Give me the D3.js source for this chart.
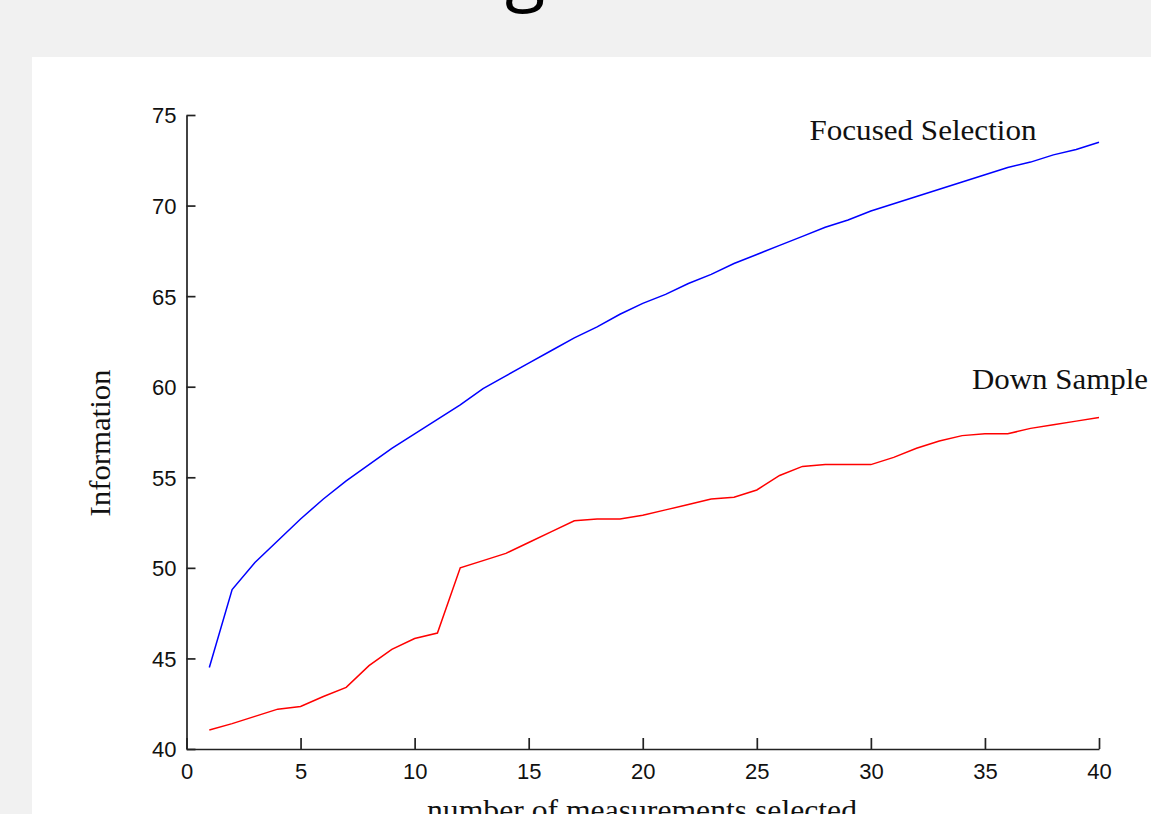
<!DOCTYPE html>
<html>
<head>
<meta charset="utf-8">
<script src="https://cdn.jsdelivr.net/npm/d3@7"></script>
<style>
  html, body { margin: 0; padding: 0; background: #f1f1f1; overflow: hidden; }
  svg { display: block; }
</style>
</head>
<body>
<svg id="chart" width="1151" height="814"></svg>
<script>
// ---- data ----
const measurements = [1,2,3,4,5,6,7,8,9,10,11,12,13,14,15,16,17,18,19,20,21,22,23,24,25,26,27,28,29,30,31,32,33,34,35,36,37,38,39,40];
const focusedSelection = [44.5,48.8,50.3,51.5,52.7,53.8,54.8,55.7,56.6,57.4,58.2,59.0,59.9,60.6,61.3,62.0,62.7,63.3,64.0,64.6,65.1,65.7,66.2,66.8,67.3,67.8,68.3,68.8,69.2,69.7,70.1,70.5,70.9,71.3,71.7,72.1,72.4,72.8,73.1,73.5];
const downSample = [41.05,41.4,41.8,42.2,42.35,42.9,43.4,44.6,45.5,46.1,46.4,50.0,50.4,50.8,51.4,52.0,52.6,52.7,52.7,52.9,53.2,53.5,53.8,53.9,54.3,55.1,55.6,55.7,55.7,55.7,56.1,56.6,57.0,57.3,57.4,57.4,57.7,57.9,58.1,58.3];
const xTicks = [0,5,10,15,20,25,30,35,40];
const yTicks = [40,45,50,55,60,65,70,75];
const seriesNames = ["Focused Selection", "Down Sample"];
const titleText = "Information Gathering";
const xLabel = "number of measurements selected";
const yLabel = "Information";

// ---- layout ----
const svg = d3.select("#chart");
const W = 1151, H = 814;
const plot = { left: 186.5, right: 1099, top: 115, bottom: 749 };

svg.append("rect").attr("x", 0).attr("y", 0).attr("width", W).attr("height", H).attr("fill", "#f1f1f1");
svg.append("rect").attr("x", 32).attr("y", 57).attr("width", W - 32).attr("height", H - 57).attr("fill", "#ffffff");

// title (mostly above the visible area, only the descender shows)
const title = svg.append("text")
  .attr("x", 0).attr("y", -4)
  .attr("font-family", "'Open Sans', 'Noto Sans', sans-serif")
  .attr("font-size", 74)
  .attr("fill", "#000")
  .text(titleText);
const gIdx = titleText.lastIndexOf("g");
const ext = title.node().getExtentOfChar(gIdx);
title.attr("x", 525 - (ext.x + ext.width / 2));

const x = d3.scaleLinear().domain([0, 40]).range([plot.left, plot.right]);
const y = d3.scaleLinear().domain([40, 75]).range([plot.bottom, plot.top]);

const tickFont = "'Liberation Sans', Arial, sans-serif";

// x axis
const xAxis = svg.append("g")
  .attr("transform", `translate(0,${plot.bottom})`)
  .call(d3.axisBottom(x).tickValues(xTicks).tickSize(-11).tickSizeOuter(0).tickPadding(0).tickFormat(d3.format("d")));
xAxis.select(".domain").attr("stroke", "#222").attr("stroke-width", 1.7);
xAxis.selectAll(".tick line").attr("stroke", "#222").attr("stroke-width", 1.7);
xAxis.selectAll(".tick text")
  .attr("y", 23).attr("dy", "0.34em")
  .attr("font-family", tickFont).attr("font-size", 22).attr("fill", "#111");

// y axis
const yAxis = svg.append("g")
  .attr("transform", `translate(${plot.left},0)`)
  .call(d3.axisLeft(y).tickValues(yTicks).tickSize(-9).tickSizeOuter(0).tickPadding(0).tickFormat(d3.format("d")));
yAxis.select(".domain").attr("stroke", "#222").attr("stroke-width", 1.7);
yAxis.selectAll(".tick line").attr("stroke", "#222").attr("stroke-width", 1.7);
yAxis.selectAll(".tick text")
  .attr("x", -10).attr("dy", "0.36em")
  .attr("font-family", tickFont).attr("font-size", 22).attr("fill", "#111");

// lines
const line = d3.line().x(d => x(d[0])).y(d => y(d[1]));
const series = [
  { name: seriesNames[0], values: focusedSelection, color: "#0000ff" },
  { name: seriesNames[1], values: downSample, color: "#ff0000" }
];
series.forEach(s => {
  svg.append("path")
    .datum(measurements.map((m, i) => [m, s.values[i]]))
    .attr("fill", "none")
    .attr("stroke", s.color)
    .attr("stroke-width", 1.5)
    .attr("d", line);
});

// series labels
const serif = "'Liberation Serif', 'Times New Roman', serif";
svg.append("text").attr("x", 923).attr("y", 140).attr("text-anchor", "middle")
  .attr("font-family", serif).attr("font-size", 29).attr("fill", "#111")
  .attr("textLength", 227).attr("lengthAdjust", "spacingAndGlyphs")
  .text(seriesNames[0]);
svg.append("text").attr("x", 1060).attr("y", 389).attr("text-anchor", "middle")
  .attr("font-family", serif).attr("font-size", 29).attr("fill", "#111")
  .attr("textLength", 176).attr("lengthAdjust", "spacingAndGlyphs")
  .text(seriesNames[1]);

// axis labels
svg.append("text")
  .attr("transform", "translate(110,443) rotate(-90)")
  .attr("text-anchor", "middle")
  .attr("font-family", serif).attr("font-size", 29).attr("fill", "#111")
  .attr("textLength", 147).attr("lengthAdjust", "spacingAndGlyphs")
  .text(yLabel);
svg.append("text")
  .attr("x", 642).attr("y", 820)
  .attr("text-anchor", "middle")
  .attr("font-family", serif).attr("font-size", 29).attr("fill", "#111")
  .attr("textLength", 430).attr("lengthAdjust", "spacingAndGlyphs")
  .text(xLabel);
</script>
</body>
</html>
